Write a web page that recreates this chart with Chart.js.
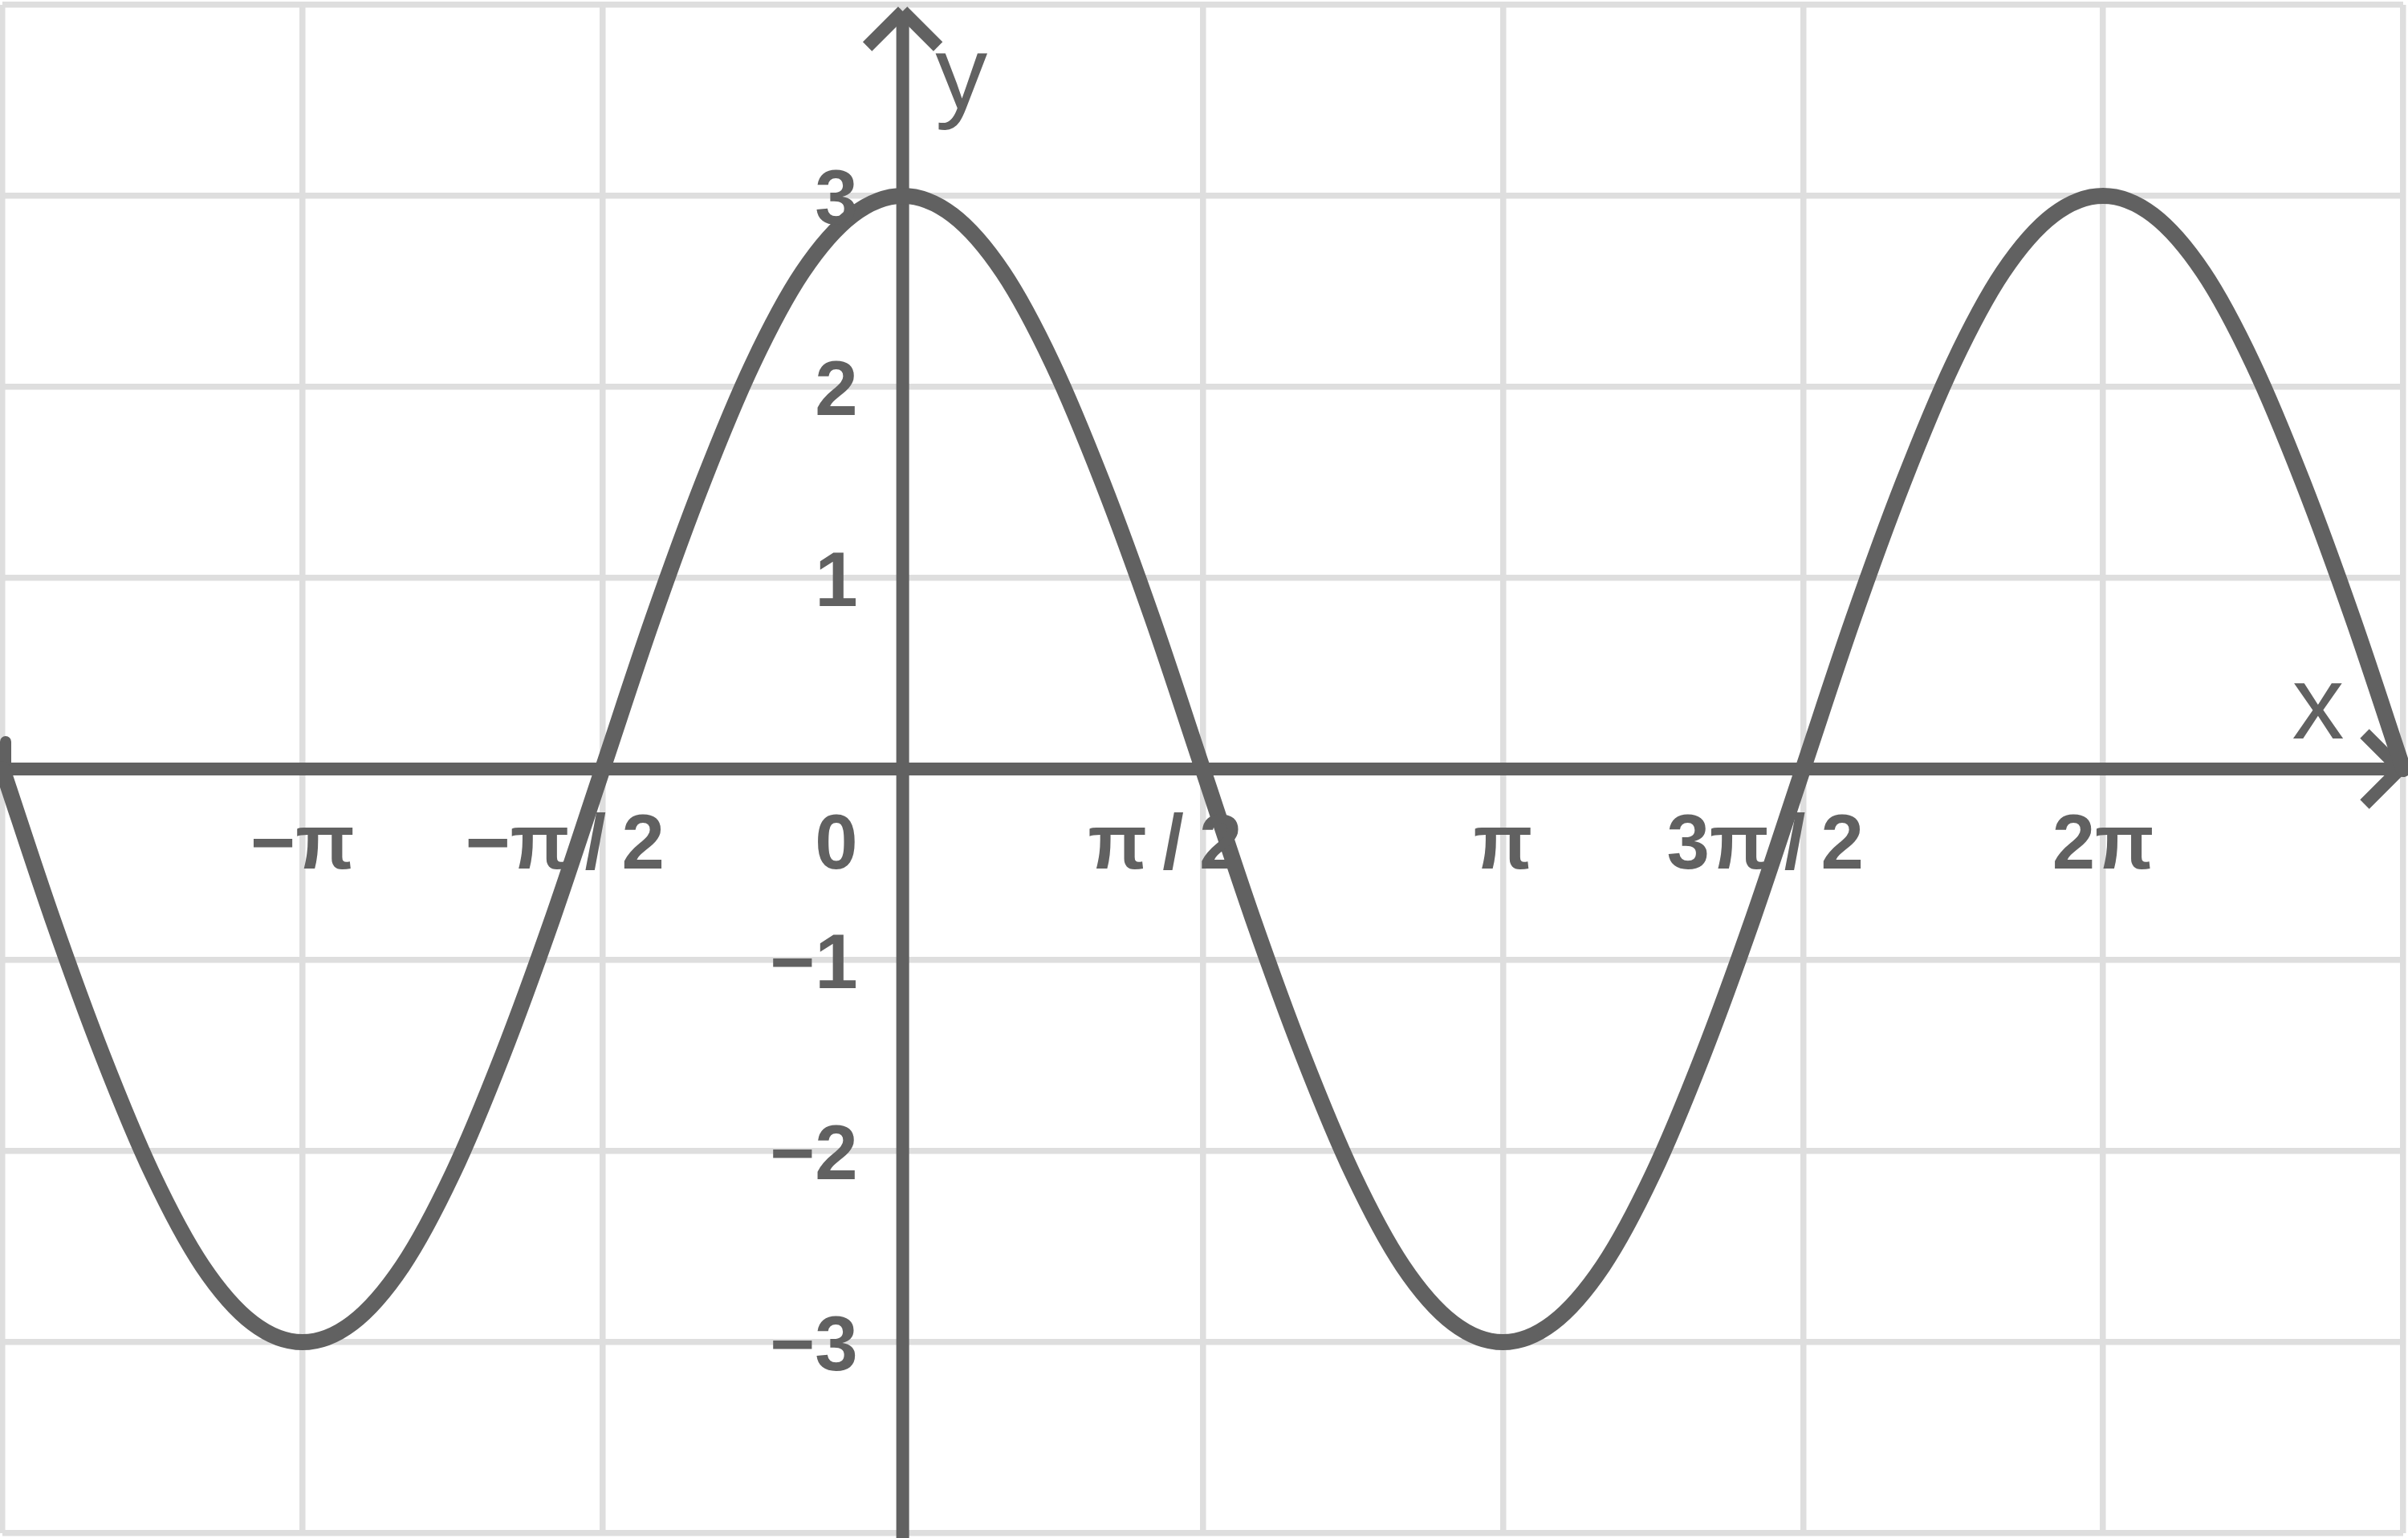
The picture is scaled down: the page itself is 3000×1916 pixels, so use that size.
<!DOCTYPE html>
<html>
<head>
<meta charset="utf-8">
<script src="https://cdn.jsdelivr.net/npm/chart.js@4.4.1/dist/chart.umd.min.js"></script>
<style>
  html, body { margin: 0; padding: 0; background: #ffffff; }
  #wrap { width: 3000px; height: 1916px; position: relative; }
</style>
</head>
<body>
<div id="wrap"><canvas id="waveChart"></canvas></div>
<script>
// x positions in multiples of pi, curve values
const xPi = [-1.5, -1.417, -1.333, -1.25, -1.167, -1.083, -1, -0.917, -0.833, -0.75, -0.667, -0.583,
             -0.5, -0.417, -0.333, -0.25, -0.167, -0.083, 0, 0.083, 0.167, 0.25, 0.333, 0.417,
             0.5, 0.583, 0.667, 0.75, 0.833, 0.917, 1, 1.083, 1.167, 1.25, 1.333, 1.417,
             1.5, 1.583, 1.667, 1.75, 1.833, 1.917, 2, 2.083, 2.167, 2.25, 2.333, 2.417, 2.5];
const yVals = [0, -0.78, -1.5, -2.12, -2.6, -2.9, -3, -2.9, -2.6, -2.12, -1.5, -0.78,
               0, 0.78, 1.5, 2.12, 2.6, 2.9, 3, 2.9, 2.6, 2.12, 1.5, 0.78,
               0, -0.78, -1.5, -2.12, -2.6, -2.9, -3, -2.9, -2.6, -2.12, -1.5, -0.78,
               0, 0.78, 1.5, 2.12, 2.6, 2.9, 3, 2.9, 2.6, 2.12, 1.5, 0.78, 0];

// tick labels
const xTickValues = [-1, -0.5, 0, 0.5, 1, 1.5, 2];
const xTickLabels = ['\u2212\u03c0', '\u2212\u03c0\u2009/\u20092', '0', '\u03c0\u2009/\u20092', '\u03c0', '3\u03c0\u2009/\u20092', '2\u03c0'];
const yTickValues = [3, 2, 1, -1, -2, -3];
const yTickLabels = ['3', '2', '1', '\u22121', '\u22122', '\u22123'];

const INK = '#616161';
const GRID = '#dedede';
const FONT = '"Liberation Sans", Arial, Helvetica, sans-serif';

// axis lines with arrows, tick labels, axis names
const axesPlugin = {
    id: 'axesPlugin',
    beforeDatasetsDraw(chart) {
        const { ctx, scales: { x, y } } = chart;
        const x0 = x.getPixelForValue(0);
        const y0 = y.getPixelForValue(0);
        const xTip = x.right - 4;
        const yTip = y.top + 8;
        ctx.save();
        ctx.strokeStyle = INK;
        ctx.lineWidth = 16;
        ctx.lineCap = 'butt';
        const seg = (a, b, c, d) => { ctx.beginPath(); ctx.moveTo(a, b); ctx.lineTo(c, d); ctx.stroke(); };
        // x axis
        seg(x.left, y0, xTip - 6, y0);
        seg(xTip, y0, xTip - 44, y0 - 44);
        seg(xTip, y0, xTip - 44, y0 + 44);
        // y axis
        seg(x0, chart.height, x0, yTip + 6);
        seg(x0, yTip, x0 - 44, yTip + 44);
        seg(x0, yTip, x0 + 44, yTip + 44);
        // small stub at the left end of the x axis
        ctx.lineWidth = 14;
        ctx.lineCap = 'round';
        seg(x.left + 4, y0, x.left + 4, y0 - 34);
        ctx.restore();
    },
    afterDraw(chart) {
        const { ctx, scales: { x, y } } = chart;
        const x0 = x.getPixelForValue(0);
        const y0 = y.getPixelForValue(0);
        ctx.save();
        ctx.fillStyle = INK;
        ctx.textBaseline = 'alphabetic';
        ctx.font = 'bold 96px ' + FONT;
        xTickValues.forEach((v, i) => {
            const lab = xTickLabels[i];
            if (v === 0) {
                ctx.textAlign = 'right';
                ctx.fillText(lab, x0 - 56, y0 + 124);
            } else {
                ctx.textAlign = 'center';
                const shift = lab.indexOf('/') >= 0 ? -47 : 0;
                ctx.fillText(lab, x.getPixelForValue(v) + shift, y0 + 124);
            }
        });
        ctx.textAlign = 'right';
        yTickValues.forEach((v, i) => {
            ctx.fillText(yTickLabels[i], x0 - 56, y.getPixelForValue(v) + 35);
        });
        ctx.font = '130px ' + FONT;
        ctx.textAlign = 'center';
        ctx.fillText('x', x.right - 106, y0 - 38);
        ctx.fillText('y', x0 + 73, y.top + 129);
        ctx.restore();
    }
};

const ctx = document.getElementById('waveChart').getContext('2d');
const waveChart = new Chart(ctx, {
    type: 'line',
    data: {
        datasets: [{
            data: xPi.map((v, i) => ({ x: v, y: yVals[i] })),
            borderColor: INK,
            borderWidth: 20,
            borderCapStyle: 'round',
            borderJoinStyle: 'round',
            pointRadius: 0,
            fill: false,
            cubicInterpolationMode: 'monotone',
            clip: 12
        }]
    },
    options: {
        responsive: true,
        maintainAspectRatio: false,
        devicePixelRatio: 1,
        animation: false,
        layout: { padding: { left: 3, right: 6, top: 6, bottom: 6 } },
        plugins: { legend: { display: false }, tooltip: { enabled: false } },
        scales: {
            x: {
                type: 'linear', min: -1.5, max: 2.5,
                ticks: { display: false, stepSize: 0.5 },
                grid: { color: GRID, lineWidth: 7.5, drawTicks: false },
                border: { display: false }
            },
            y: {
                type: 'linear', min: -4, max: 4,
                ticks: { display: false, stepSize: 1 },
                grid: { color: GRID, lineWidth: 7.5, drawTicks: false },
                border: { display: false }
            }
        }
    },
    plugins: [axesPlugin]
});
</script>
</body>
</html>
